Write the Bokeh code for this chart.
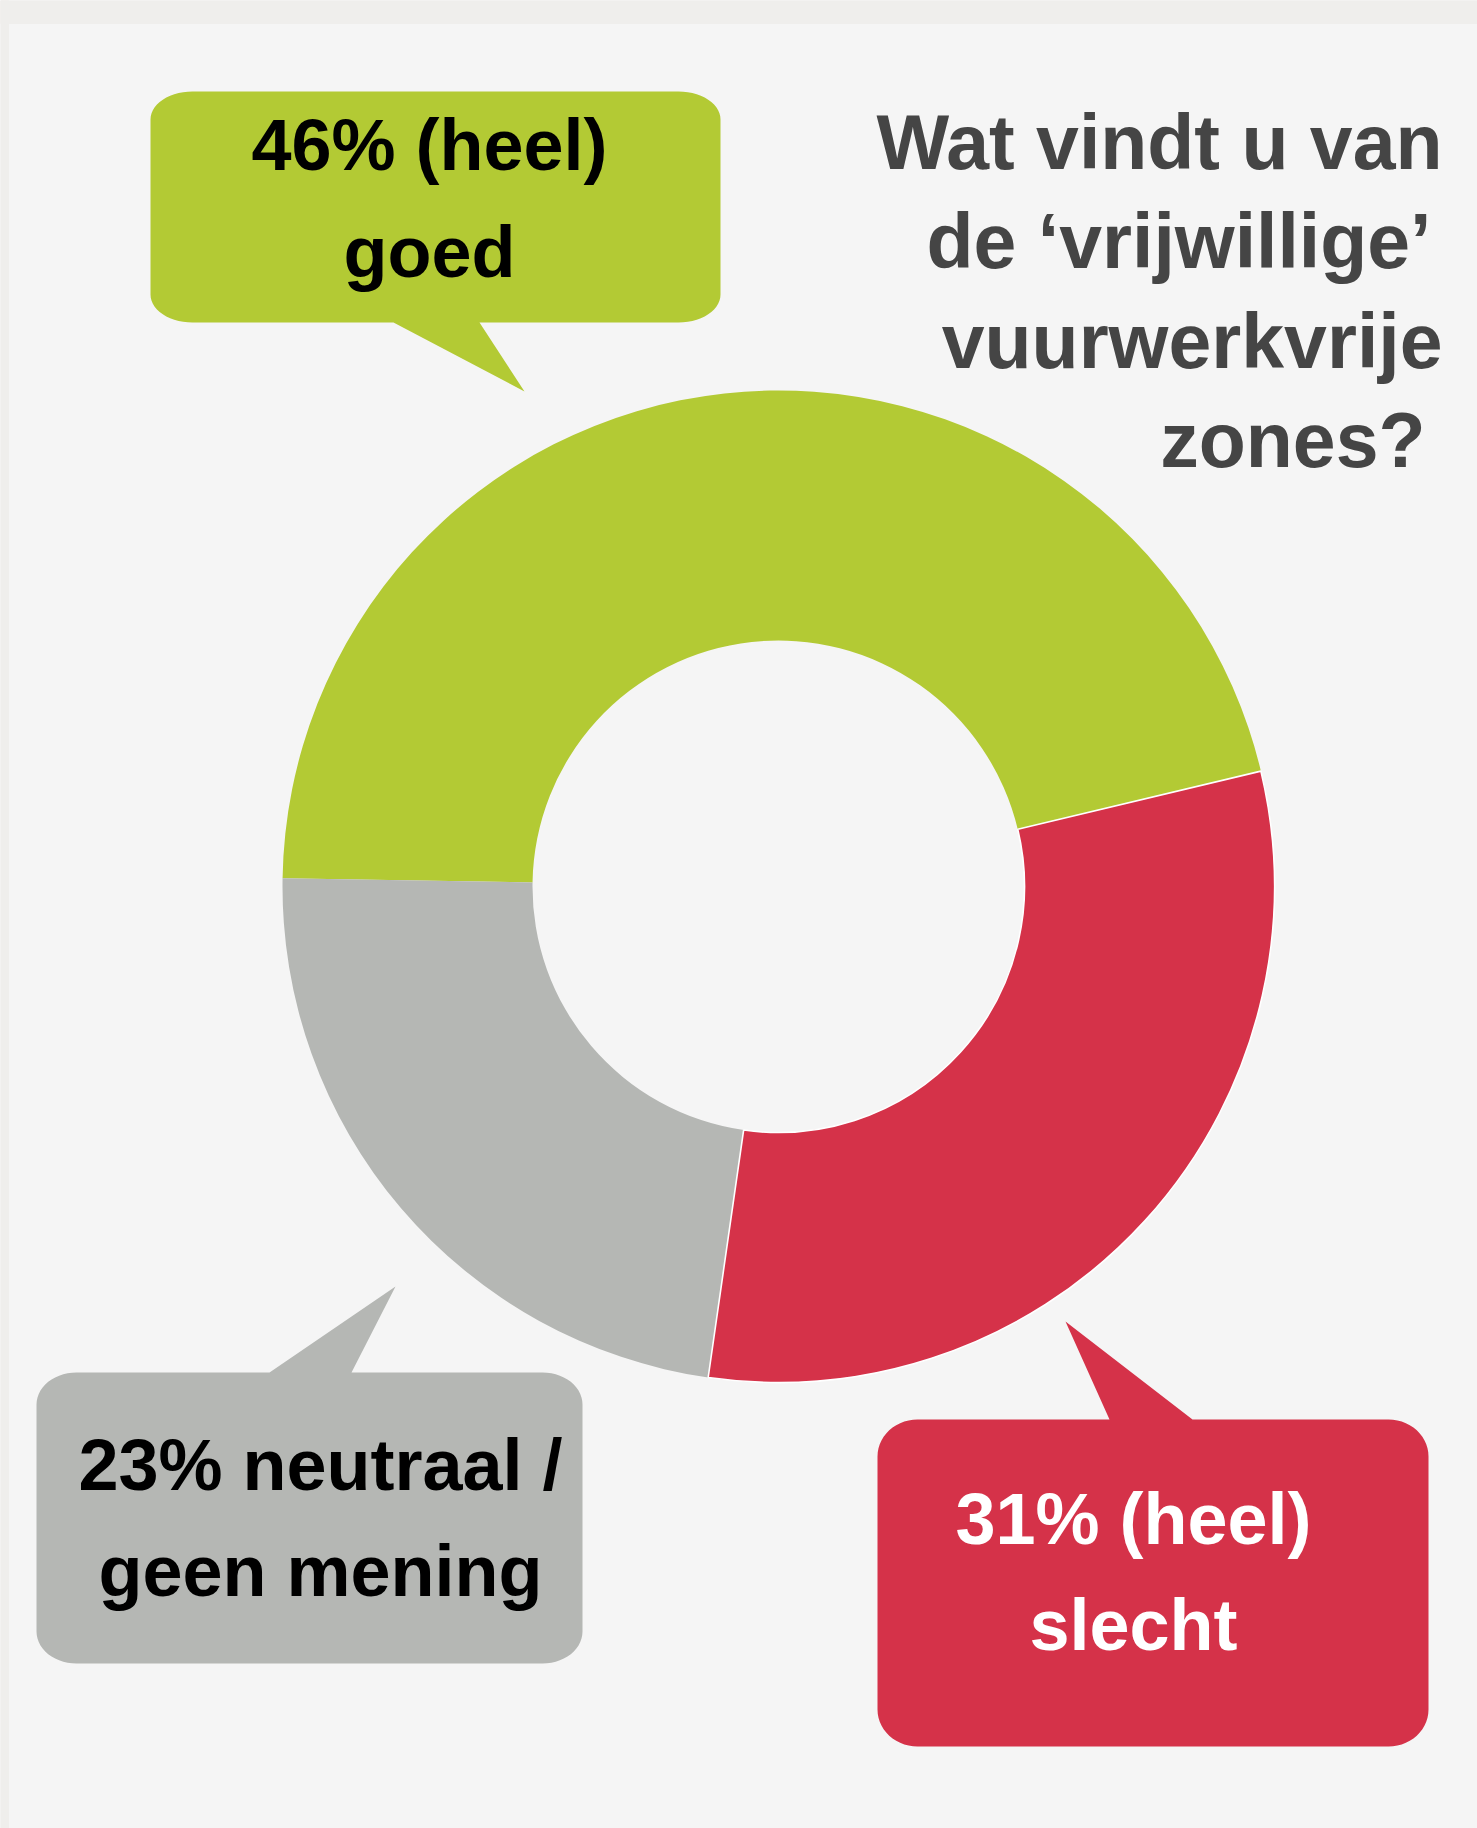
import math
from bokeh.plotting import figure
from bokeh.models import Range1d, ColumnDataSource
from bokeh.core.properties import value
from bokeh.embed import file_html
from bokeh.resources import INLINE

# ---------------- data ----------------
categories = ["(heel) goed", "neutraal / geen mening", "(heel) slecht"]
shares = [46, 23, 31]
colors = ["#B3CA34", "#B5B7B4", "#D53249"]
label_line1 = ["46% (heel)", "23% neutraal /", "31% (heel)"]
label_line2 = ["goed", "geen mening", "slecht"]
label_colors = ["#000000", "#000000", "#FFFFFF"]
title_lines = ["Wat vindt u van", "de \u2018vrijwillige\u2019", "vuurwerkvrije", "zones?"]

# ---------------- layout (reference pixel coordinates) ----------------
W, H = 1477, 1828
BAND_COLOR = "#EFEEEC"
PANEL_COLOR = "#F5F5F5"
TITLE_COLOR = "#454545"
BAND_TOP, BAND_LEFT = 23, 8

CX, CY = 778, 886
R_OUT, R_IN = 496, 246
START_DEG = 13.45

FONT = value("Liberation Sans")
TEXT_SHIFT = 27  # renderer places the alphabetic baseline lower than requested

# callout boxes: x0, y0, x1, y1, rx, ry, pointer side, base a, base b, tip x, tip y
callouts = [
    dict(x0=150, y0=91, x1=720, y1=322, rx=42, ry=28, side="bottom", a=393, b=479, tx=524, ty=391,
         cx=429, base1=171, base2=278),
    dict(x0=36, y0=1372, x1=582, y1=1663, rx=40, ry=32, side="top", a=269, b=351, tx=395, ty=1286,
         cx=320, base1=1491, base2=1597),
    dict(x0=877, y0=1419, x1=1428, y1=1746, rx=40, ry=37, side="top", a=1109, b=1192, tx=1065, ty=1321,
         cx=1133, base1=1545, base2=1651),
]

title_right = [1442, 1431, 1442, 1425]
title_base = [168, 267, 367, 466]


def Y(v):
    return -v


p = figure(width=W, height=H, output_backend="svg", toolbar_location=None,
           x_range=Range1d(0, W), y_range=Range1d(-H, 0),
           min_border=0, background_fill_color=PANEL_COLOR, border_fill_color=PANEL_COLOR)
p.axis.visible = False
p.grid.visible = False
p.outline_line_color = None

# frame bands (top and left)
p.quad(left=0, right=W, top=0, bottom=Y(BAND_TOP), color=BAND_COLOR)
p.quad(left=0, right=BAND_LEFT, top=0, bottom=-H, color=BAND_COLOR)

# ---------------- donut ----------------
total = float(sum(shares))
starts, ends = [], []
acc = math.radians(START_DEG)
for s in shares:
    ang = s / total * 2 * math.pi
    starts.append(acc)
    ends.append(acc + ang)
    acc += ang

src = ColumnDataSource(dict(cat=categories, start=starts, end=ends, color=colors,
                            line=[None, None, "white"]))
p.annular_wedge(x=CX, y=Y(CY), inner_radius=R_IN, outer_radius=R_OUT,
                start_angle="start", end_angle="end", direction="anticlock",
                fill_color="color", line_color="line", line_width=1.6, source=src)

# ---------------- callouts ----------------
def corner(cx, cy, rx, ry, t0, t1, n=14):
    pts = []
    for i in range(n + 1):
        t = math.radians(t0 + (t1 - t0) * i / n)
        pts.append((cx + rx * math.cos(t), cy + ry * math.sin(t)))
    return pts


def callout_path(c):
    x0, y0, x1, y1, rx, ry = c["x0"], c["y0"], c["x1"], c["y1"], c["rx"], c["ry"]
    pts = []
    pts += corner(x0 + rx, y0 + ry, rx, ry, 180, 270)
    if c["side"] == "top":
        pts += [(c["a"], y0), (c["tx"], c["ty"]), (c["b"], y0)]
    pts += corner(x1 - rx, y0 + ry, rx, ry, 270, 360)
    pts += corner(x1 - rx, y1 - ry, rx, ry, 0, 90)
    if c["side"] == "bottom":
        pts += [(c["b"], y1), (c["tx"], c["ty"]), (c["a"], y1)]
    pts += corner(x0 + rx, y1 - ry, rx, ry, 90, 180)
    return [q[0] for q in pts], [Y(q[1]) for q in pts]


xs, ys = [], []
for c in callouts:
    px, py = callout_path(c)
    xs.append(px)
    ys.append(py)
p.patches(xs=xs, ys=ys, fill_color=colors, line_color=None)

lab_src = ColumnDataSource(dict(
    x=[c["cx"] for c in callouts] * 2,
    y=[Y(c["base1"] - TEXT_SHIFT) for c in callouts] + [Y(c["base2"] - TEXT_SHIFT) for c in callouts],
    text=label_line1 + label_line2,
    color=label_colors * 2,
))
p.text(x="x", y="y", text="text", text_color="color", source=lab_src,
       text_font=FONT, text_font_style="bold", text_font_size="72px",
       text_align="center", text_baseline="alphabetic")

# ---------------- title ----------------
p.text(x=title_right, y=[Y(b - TEXT_SHIFT) for b in title_base], text=title_lines,
       text_font=FONT, text_font_style="bold", text_font_size="77px",
       text_color=TITLE_COLOR, text_align="right", text_baseline="alphabetic")

html = file_html(p, INLINE, title="vuurwerkvrije zones")
open("out.html", "w").write(html)
